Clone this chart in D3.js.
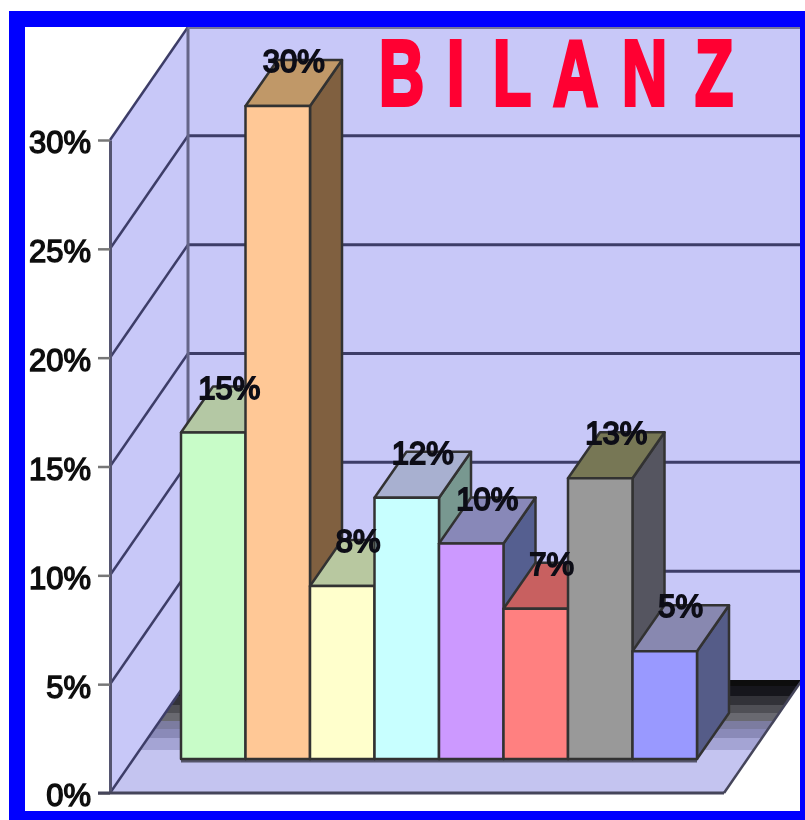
<!DOCTYPE html>
<html>
<head>
<meta charset="utf-8">
<script src="https://cdn.jsdelivr.net/npm/d3@7"></script>
<style>
	html, body { margin: 0; padding: 0; background: #fff; }
	svg { display: block; }
	text { font-family: "Liberation Sans", Arial, sans-serif; }
</style>
</head>
<body>
<div id="chart"></div>
<script>
// Values (labels show them rounded)
let barIds = ['b1', 'b2', 'b3', 'b4', 'b5', 'b6', 'b7', 'b8'];
let barValues = [15, 30, 7.95, 12, 9.9, 6.9, 12.9, 4.95];
let tickValues = [0, 5, 10, 15, 20, 25, 30];
let titleText = 'BILANZ';

// Bar colours, in bar order
let frontColors = ['#c8fcc8', '#ffc896', '#ffffcc', '#c8ffff', '#cc99ff', '#ff8080', '#999999', '#9999ff'];
let topColors = ['#b4c8a4', '#c09868', '#b8c8a0', '#a8b0d0', '#8888b8', '#c86060', '#777755', '#8888b0'];
let sideColors = ['#7c9a7c', '#80603f', '#99997a', '#789890', '#555f90', '#a05050', '#555560', '#555b88'];

let width = 805;
let height = 820;

// Depth of the 3D box and of one bar
let depthX = 78, depthY = -113;
let barDepthX = 32, barDepthY = -46;
let wallColor = '#c8c8f8';
let floorColor = '#c4c4f0';
let lineColor = '#3e3e68';

let yScale = d3.scaleLinear().domain([0, 30]).range([793, 140]);
let xScale = d3.scaleBand().domain(barIds).range([181, 697]).padding(0);

// Floor line of the bars sits in front of the back wall
let barBase = 759;
let barHeight = v => yScale(0) - yScale(v);
let plotLeft = 110, plotFront = yScale(0), plotRight = 724;

let svg = d3.select('#chart').append('svg')
		.attr('width', width)
		.attr('height', height);

let defs = svg.append('defs');

// The floor fades from black at the wall to the floor colour, in bands
let floorBands = [[0, '#08080c'], [0.08, '#18181c'], [0.2, '#333338'], [0.32, '#505055'], [0.42, '#69696f'],
	[0.52, '#7c7ca0'], [0.62, '#8a8ab8'], [0.74, '#a4a4d4'], [0.88, floorColor]];
let floorFade = defs.append('linearGradient')
		.attr('id', 'floorFade')
		.attr('gradientUnits', 'userSpaceOnUse')
		.attr('x1', 0).attr('x2', 0)
		.attr('y1', plotFront + depthY).attr('y2', barBase);
floorBands.forEach(function(s, i) {
	floorFade.append('stop').attr('offset', s[0]).attr('stop-color', s[1]);
	let next = i < floorBands.length - 1 ? floorBands[i + 1][0] : 1;
	floorFade.append('stop').attr('offset', next).attr('stop-color', s[1]);
});

defs.append('filter').attr('id', 'soft')
		.append('feGaussianBlur').attr('stdDeviation', 0.7);
defs.append('clipPath').attr('id', 'inner')
		.append('rect').attr('x', 25).attr('y', 27).attr('width', 775).attr('height', 784);

// Blue frame
svg.append('rect').attr('x', 9).attr('y', 11).attr('width', width - 9).attr('height', height - 11).attr('fill', '#0000ff');
svg.append('rect').attr('x', 25).attr('y', 27).attr('width', 775).attr('height', 784).attr('fill', '#fff');

let chart = svg.append('g').attr('clip-path', 'url(#inner)').append('g').attr('filter', 'url(#soft)');

function poly(parent, pts, fill, stroke, sw) {
	return parent.append('polygon')
			.attr('points', pts.map(p => p.join(',')).join(' '))
			.attr('fill', fill)
			.attr('stroke', stroke || 'none')
			.attr('stroke-width', sw || 0)
			.attr('stroke-linejoin', 'round');
}

let backX = plotLeft + depthX;
let backRight = plotRight + depthX;

// Back wall, left wall, floor
poly(chart, [[backX, yScale(30) + depthY], [800, yScale(30) + depthY], [800, yScale(0) + depthY], [backX, yScale(0) + depthY]], wallColor);
poly(chart, [[plotLeft, yScale(0)], [plotLeft, yScale(30)], [backX, yScale(30) + depthY], [backX, yScale(0) + depthY]], wallColor);
poly(chart, [[plotLeft, plotFront], [plotRight, plotFront], [backRight, plotFront + depthY], [backX, plotFront + depthY]], 'url(#floorFade)');

// Grid lines on both walls
let grid = chart.append('g');
grid.selectAll('.backLine').data(tickValues.filter(d => d > 0)).enter().append('line')
		.classed('backLine', true)
		.attr('x1', backX).attr('x2', 800)
		.attr('y1', d => yScale(d) + depthY).attr('y2', d => yScale(d) + depthY)
		.attr('stroke', lineColor).attr('stroke-width', 3);
grid.selectAll('.sideLine').data(tickValues).enter().append('line')
		.classed('sideLine', true)
		.attr('x1', plotLeft).attr('x2', backX)
		.attr('y1', d => yScale(d)).attr('y2', d => yScale(d) + depthY)
		.attr('stroke', lineColor).attr('stroke-width', 2.5);
grid.append('line')
		.attr('x1', backX).attr('x2', backX)
		.attr('y1', yScale(30) + depthY).attr('y2', yScale(0) + depthY)
		.attr('stroke', '#666688').attr('stroke-width', 3);
grid.append('line')
		.attr('x1', backX).attr('x2', 800)
		.attr('y1', yScale(30) + depthY + 1).attr('y2', yScale(30) + depthY + 1)
		.attr('stroke', '#777799').attr('stroke-width', 2);
grid.append('line')
		.attr('x1', plotRight).attr('x2', backRight)
		.attr('y1', plotFront).attr('y2', plotFront + depthY)
		.attr('stroke', '#44445a').attr('stroke-width', 2.5);

// Title, one x per letter, squeezed horizontally
let titleScale = 0.68;
let titleX = [379, 447, 493, 553, 622, 695];
chart.append('text')
		.attr('transform', 'translate(0,104.5) scale(' + titleScale + ',1)')
		.attr('x', titleX.map(d => d / titleScale).join(' '))
		.attr('font-size', 92)
		.attr('font-weight', 'bold')
		.attr('fill', '#ff0033')
		.attr('stroke', '#ff0033')
		.attr('stroke-width', 4)
		.text(titleText);

// Shadow line under the bars
chart.append('line')
		.attr('x1', xScale.range()[0]).attr('x2', xScale.range()[1])
		.attr('y1', barBase + 2).attr('y2', barBase + 2)
		.attr('stroke', '#55556a').attr('stroke-width', 3);

// Bars, painted left to right so each one overlaps its neighbour's side
let bars = chart.append('g');
barIds.forEach(function(id, i) {
	let x0 = xScale(id), x1 = x0 + xScale.bandwidth();
	let top = barBase - barHeight(barValues[i]);
	let outline = '#333';
	poly(bars, [[x1, barBase], [x1, top], [x1 + barDepthX, top + barDepthY], [x1 + barDepthX, barBase + barDepthY]], sideColors[i], outline, 2.5);
	poly(bars, [[x0, top], [x1, top], [x1 + barDepthX, top + barDepthY], [x0 + barDepthX, top + barDepthY]], topColors[i], outline, 2.5);
	poly(bars, [[x0, barBase], [x0, top], [x1, top], [x1, barBase]], frontColors[i], outline, 2.5);
});

// Front axis on the left
let axis = d3.axisLeft(yScale)
		.tickValues(tickValues)
		.tickFormat(d => d + '%')
		.tickSize(12)
		.tickSizeOuter(0)
		.tickPadding(7);
let axisG = chart.append('g')
		.attr('transform', 'translate(' + plotLeft + ',0)')
		.call(axis);
axisG.select('.domain').attr('stroke', '#55556f').attr('stroke-width', 3);
axisG.selectAll('.tick line').attr('stroke', '#777').attr('stroke-width', 2.5);
axisG.selectAll('.tick text')
		.attr('y', 3)
		.attr('font-size', 31)
		.attr('font-family', '"Liberation Sans", Arial, sans-serif')
		.attr('fill', '#111')
		.attr('stroke', '#111')
		.attr('stroke-width', 1.4);

// Front edge of the floor
chart.append('line')
		.attr('x1', 98).attr('x2', plotRight)
		.attr('y1', plotFront).attr('y2', plotFront)
		.attr('stroke', '#44445a').attr('stroke-width', 3);

// Value labels sit on the back edge of each bar top
chart.append('g').selectAll('.valueLabel')
		.data(barIds).enter().append('text')
		.classed('valueLabel', true)
		.attr('x', d => xScale(d) + xScale.bandwidth() / 2 + 16)
		.attr('y', (d, i) => barBase - barHeight(barValues[i]) + barDepthY + 12)
		.attr('text-anchor', 'middle')
		.attr('font-size', 31)
		.attr('fill', '#0c0c18')
		.attr('stroke', '#0c0c18')
		.attr('stroke-width', 1.8)
		.text((d, i) => Math.round(barValues[i]) + '%');
</script>
</body>
</html>
